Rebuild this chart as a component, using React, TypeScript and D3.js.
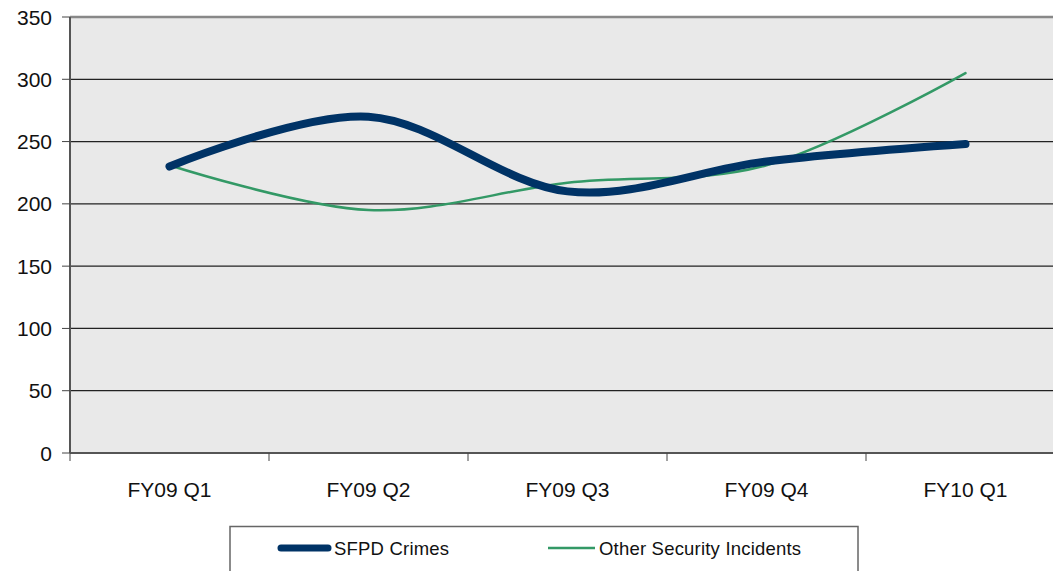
import React from "react";
import * as d3 from "d3";

const categories = ["FY09 Q1", "FY09 Q2", "FY09 Q3", "FY09 Q4", "FY10 Q1"];
const sfpdCrimes = [230, 270, 210, 234, 248];
const otherIncidents = [231, 195, 217, 231, 305];
const yTicks = [0, 50, 100, 150, 200, 250, 300, 350];
const seriesNames = ["SFPD Crimes", "Other Security Incidents"];

const W = 1053;
const H = 571;
const left = 70;
const top = 17;
const bottom = 453;
const bandW = 199;

export default function App() {
  const x = d3
    .scaleBand<string>()
    .domain(categories)
    .range([left, left + bandW * categories.length]);
  const y = d3.scaleLinear().domain([0, 350]).range([bottom, top]);
  const line = d3
    .line<number>()
    .x((_, i) => (x(categories[i]) as number) + x.bandwidth() / 2)
    .y((d) => y(d))
    .curve(d3.curveCardinal.tension(0));

  const font = "'Liberation Sans', Arial, Helvetica, sans-serif";
  const tickXs = [...categories.map((c) => x(c) as number)];

  return (
    <svg
      width={W}
      height={H}
      style={{ position: "absolute", left: 0, top: 0, display: "block" }}
      fontFamily={font}
    >
      <rect x={0} y={0} width={W} height={H} fill="#ffffff" />
      <rect x={left} y={top} width={W - left} height={bottom - top} fill="#e9e9e9" />
      {yTicks.slice(1, -1).map((t) => (
        <line key={t} x1={left} x2={W} y1={y(t)} y2={y(t)} stroke="#222" strokeWidth={1.2} />
      ))}
      <line x1={left} x2={W} y1={y(350)} y2={y(350)} stroke="#888" strokeWidth={2.5} />
      {/* axes */}
      <line x1={left} x2={left} y1={top} y2={bottom} stroke="#555" strokeWidth={2} />
      <line x1={left} x2={W} y1={bottom} y2={bottom} stroke="#555" strokeWidth={2} />
      {yTicks.map((t) => (
        <g key={t}>
          <line x1={left - 8} x2={left} y1={y(t)} y2={y(t)} stroke="#444" strokeWidth={1} />
          <text x={52} y={y(t)} dy="0.36em" textAnchor="end" fontSize={21} fill="#111">
            {t}
          </text>
        </g>
      ))}
      {tickXs.map((tx, i) => (
        <line key={i} x1={tx} x2={tx} y1={bottom} y2={bottom + 8} stroke="#444" strokeWidth={1} />
      ))}
      {categories.map((c) => (
        <text
          key={c}
          x={(x(c) as number) + x.bandwidth() / 2}
          y={497}
          textAnchor="middle"
          fontSize={21}
          fill="#111"
        >
          {c}
        </text>
      ))}
      {/* series */}
      <path d={line(otherIncidents) || ""} fill="none" stroke="#339966" strokeWidth={2.5} strokeLinecap="round" />
      <path d={line(sfpdCrimes) || ""} fill="none" stroke="#003366" strokeWidth={8} strokeLinecap="round" />
      {/* legend */}
      <rect x={230} y={526.5} width={628} height={60} fill="#fff" stroke="#666" strokeWidth={1.5} />
      <line x1={281} x2={328} y1={548} y2={548} stroke="#003366" strokeWidth={7} strokeLinecap="round" />
      <text x={334} y={554.5} fontSize={18.5} letterSpacing={0.2} fill="#111">
        {seriesNames[0]}
      </text>
      <line x1={548} x2={595} y1={548} y2={548} stroke="#339966" strokeWidth={2.5} />
      <text x={599} y={554.5} fontSize={18.5} letterSpacing={0.2} fill="#111">
        {seriesNames[1]}
      </text>
    </svg>
  );
}
